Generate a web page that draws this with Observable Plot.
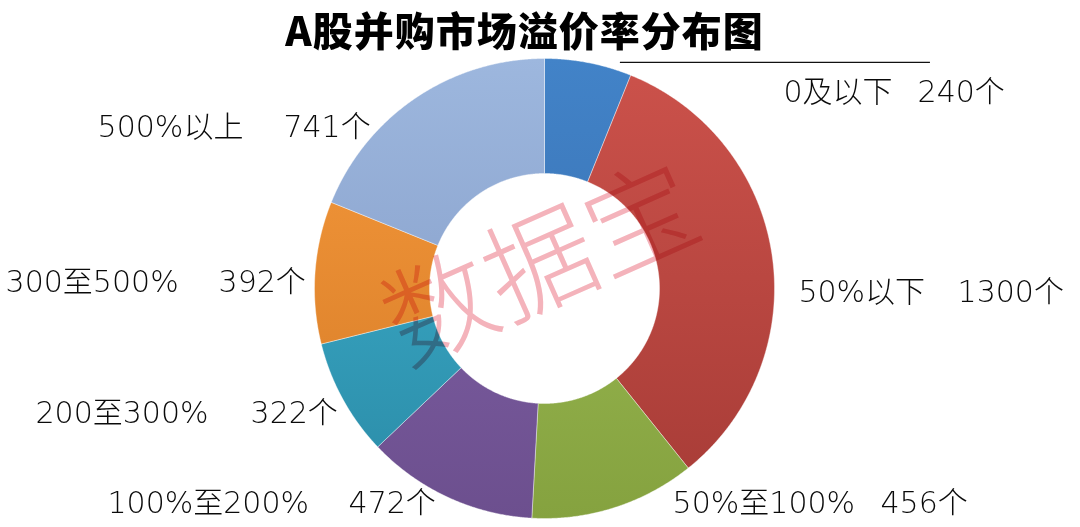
<!DOCTYPE html>
<html><head><meta charset="utf-8">
<script src="https://cdn.jsdelivr.net/npm/d3@7"></script>
<script src="https://cdn.jsdelivr.net/npm/@observablehq/plot@0.6"></script>
<style>
html,body{margin:0;padding:0;background:#fff;width:1080px;height:527px;overflow:hidden}
#title{position:relative;height:58px;line-height:58px;margin-bottom:-8px;font-family:"Noto Sans CJK SC","Noto Sans",sans-serif;font-weight:900;font-size:40px;letter-spacing:1px;text-align:center;padding-right:31px;color:#000;white-space:nowrap}
#chart{position:relative}
#chart svg{display:block}
</style></head><body>
<div id="title">A股并购市场溢价率分布图</div>
<div id="chart"></div>
<script>
// ---- data ----
const categories = ["0及以下", "50%以下", "50%至100%", "100%至200%", "200至300%", "300至500%", "500%以上"];
const counts = [240, 1300, 456, 472, 322, 392, 741];
const countLabels = counts.map(d => d + "个");
const watermark = "数据宝";

// ---- styles ----
const colorsTop    = ["#4283c8", "#cc524b", "#a2c25a", "#8666ad", "#40b5d2", "#f79a3c", "#9db7de"];
const colorsBottom = ["#3569a8", "#a63b36", "#85a23f", "#6c4f8e", "#2a8aa6", "#d47a26", "#7e96c2"];

// ---- layout (units of outer radius, centred on the donut) ----
const W = 1080, H = 477, TOP = 50;
const CX = 544, CY = 288, R = 230, INNER = 0.5;
const labelPos = [ // [label x, count x, y]
  [1.039, 1.622, 0.852],
  [1.104, 1.796, -0.017],
  [0.557, 1.461, -0.935],
  [-1.900, -0.852, -0.935],
  [-2.213, -1.278, -0.543],
  [-2.343, -1.417, 0.026],
  [-1.943, -1.135, 0.700]
];
const leader = {y: 0.983, x1: 0.33, x2: 1.678};
const wmPos = {x: -0.01, y: 0.09, rotate: -24};

// ---- slice polygons computed from counts ----
const total = d3.sum(counts);
const slices = [];
let acc = 0;
counts.forEach((v, i) => {
  const a0 = acc / total * 2 * Math.PI;
  acc += v;
  const a1 = acc / total * 2 * Math.PI;
  const n = Math.max(2, Math.ceil((a1 - a0) / 0.005));
  const pts = [];
  for (let k = 0; k <= n; k++) { const a = a0 + (a1 - a0) * k / n; pts.push({cat: categories[i], x: Math.sin(a), y: Math.cos(a)}); }
  for (let k = n; k >= 0; k--) { const a = a0 + (a1 - a0) * k / n; pts.push({cat: categories[i], x: INNER * Math.sin(a), y: INNER * Math.cos(a)}); }
  pts.push({...pts[0]});
  slices.push(...pts);
});

const font = '"Noto Sans CJK SC", "Noto Sans", sans-serif';
const labelFont = '"DejaVu Sans", "Noto Sans CJK SC", sans-serif';

const chart = Plot.plot({
  width: W, height: H,
  margin: 0,
  style: {fontFamily: font, background: "transparent", overflow: "visible"},
  x: {domain: [-CX / R, (W - CX) / R], axis: null},
  y: {domain: [-(TOP + H - CY) / R, (CY - TOP) / R], axis: null},
  color: {domain: categories, range: categories.map((d, i) => `url(#g${i})`)},
  marks: [
    Plot.line(slices, {x: "x", y: "y", z: "cat", fill: "cat", stroke: "#ffffff", strokeOpacity: 0.5, strokeWidth: 0.8, curve: "linear"}),
    Plot.ruleY([leader.y], {x1: leader.x1, x2: leader.x2, stroke: "#111", strokeWidth: 1.4}),
    Plot.text(categories, {x: (d, i) => labelPos[i][0], y: (d, i) => labelPos[i][2], text: d => d, textAnchor: "start", fontSize: 30, fontWeight: 300, fontFamily: labelFont, fill: "#0a0a0a"}),
    Plot.text(countLabels, {x: (d, i) => labelPos[i][1], y: (d, i) => labelPos[i][2], text: d => d, textAnchor: "start", fontSize: 30, fontWeight: 300, fontFamily: labelFont, fill: "#0a0a0a"}),
    Plot.text([watermark], {x: () => wmPos.x, y: () => wmPos.y, text: d => d, rotate: wmPos.rotate, fontSize: 110, fontWeight: 300, fill: "#f4b3bb", textAnchor: "middle"})
  ]
});

// gradients for the Excel-like shading
const ys = chart.scale("y");
const defs = d3.select(chart).insert("defs", ":first-child");
categories.forEach((c, i) => {
  const g = defs.append("linearGradient").attr("id", `g${i}`).attr("gradientUnits", "userSpaceOnUse")
    .attr("x1", 0).attr("x2", 0).attr("y1", ys.apply(1)).attr("y2", ys.apply(-1));
  g.append("stop").attr("offset", "0%").attr("stop-color", colorsTop[i]);
  g.append("stop").attr("offset", "100%").attr("stop-color", colorsBottom[i]);
});
// watermark blending
d3.select(chart).selectAll("text").filter(function() { return this.textContent === watermark; })
  .style("mix-blend-mode", "multiply");

document.getElementById("chart").appendChild(chart);
</script>
</body></html>
